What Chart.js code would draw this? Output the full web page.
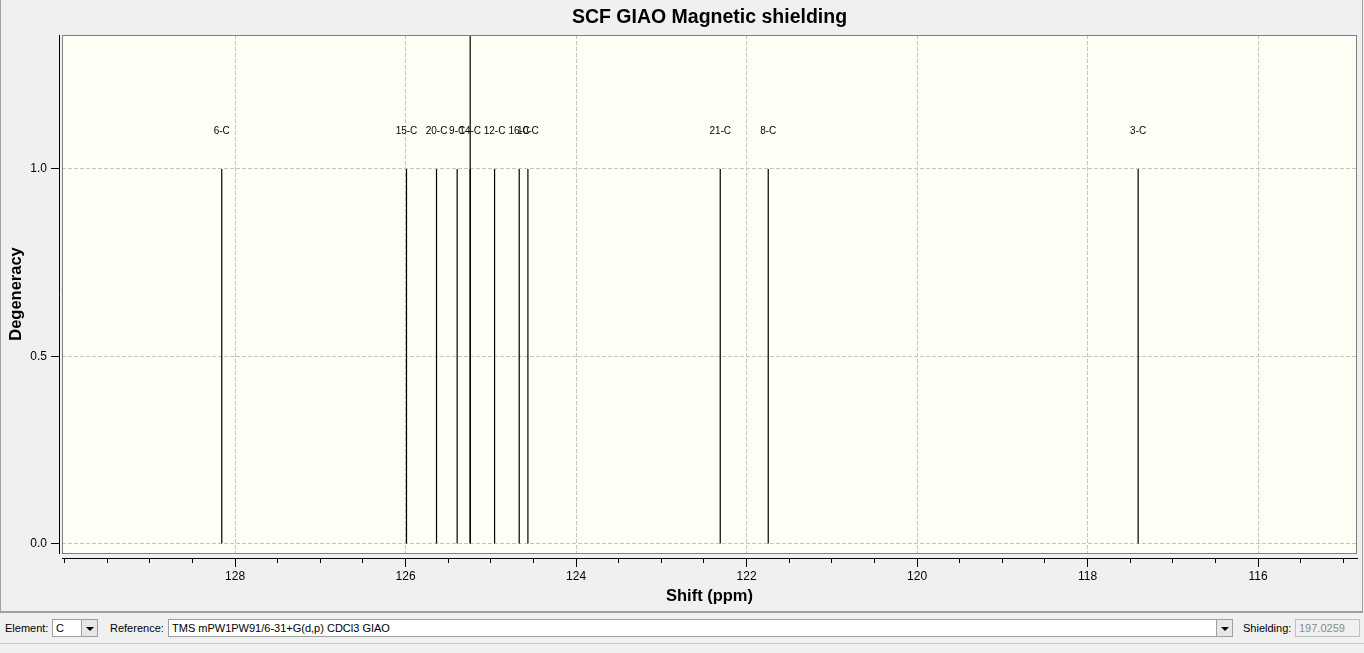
<!DOCTYPE html>
<html>
<head>
<meta charset="utf-8">
<script src="https://cdn.jsdelivr.net/npm/chart.js@4/dist/chart.umd.min.js"></script>
<style>
  html, body { margin: 0; padding: 0; background: #f0f0f0; width: 1364px; height: 653px; overflow: hidden;
    font-family: "Liberation Sans", Arial, sans-serif; font-size: 11px; color: #000; }
  #panel { position: absolute; left: 0; top: 0; width: 1361px; height: 611px;
    border-left: 1px solid #a0a0a0; border-right: 1px solid #a0a0a0; border-bottom: 2px solid #a0a0a0; }
  #chart { position: absolute; left: 2px; top: 0; }
  .lbl { position: absolute; top: 621px; line-height: 14px; }
  .box { position: absolute; top: 619px; height: 16px; background: #fff; border: 1px solid #a0a0a0; }
  .box span { position: absolute; left: 3px; top: 1px; line-height: 14px; }
  .btn { position: absolute; right: 0; top: 0; width: 15px; height: 16px; background: #e6e6e6;
    border-left: 1px solid #a0a0a0; }
  .btn:after { content: ""; position: absolute; left: 4px; top: 7px; border-left: 4px solid transparent;
    border-right: 4px solid transparent; border-top: 4px solid #000; }
  #foot { position: absolute; left: 0; top: 643px; width: 1364px; border-top: 1px solid #c8c8c8; }
</style>
</head>
<body>
<div id="panel"></div>
<canvas id="chart" width="1360" height="611"></canvas>

<div class="lbl" style="left:5px">Element:</div>
<div class="box" style="left:52px;width:44px"><span>C</span><div class="btn"></div></div>
<div class="lbl" style="left:110px">Reference:</div>
<div class="box" style="left:168px;width:1063px"><span>TMS mPW1PW91/6-31+G(d,p) CDCl3 GIAO</span><div class="btn"></div></div>
<div class="lbl" style="left:1243px">Shielding:</div>
<div class="box" style="left:1295px;width:63px;background:#f0f0f0;border-color:#c0c0c0"><span style="color:#8a8a8a">197.0259</span></div>
<div id="foot"></div>

<script>
// peaks
const peakLabels = ["6-C", "15-C", "20-C", "9-C", "14-C", "12-C", "16-C", "10-C", "21-C", "8-C", "3-C"];
const peakShifts = [128.156, 125.989, 125.637, 125.395, 125.242, 124.956, 124.667, 124.565, 122.309, 121.746, 117.407];
const degeneracy = [1, 1, 1, 1, 1, 1, 1, 1, 1, 1, 1];
const cursorShift = 125.242;
const labelLevel = 1.1;

const xMin = 114.84, xMax = 130.03;
const yMin = -0.024, yMax = 1.357;
const xMajorTicks = [128, 126, 124, 122, 120, 118, 116];
const xMinorTicks = [130, 129.5, 129, 128.5, 128, 127.5, 127, 126.5, 126, 125.5, 125, 124.5, 124, 123.5,
  123, 122.5, 122, 121.5, 121, 120.5, 120, 119.5, 119, 118.5, 118, 117.5, 117, 116.5, 116, 115.5, 115];
const yTicks = [0, 0.5, 1.0];

const FONT = "'Liberation Sans', Arial, sans-serif";
const gridDash = { color: "#c4c4c4", lineWidth: 1, offset: false };

function setTicks(list) {
  return (scale) => { scale.ticks = list.map((v) => ({ value: v })); };
}

const plotFrame = {
  id: "plotFrame",
  beforeDraw(chart) {
    const { ctx, chartArea: a } = chart;
    ctx.save();
    ctx.fillStyle = "#fffff5";
    ctx.fillRect(a.left, a.top, a.right - a.left, a.bottom - a.top);
    ctx.restore();
  },
  afterDraw(chart) {
    const { ctx, chartArea: a } = chart;
    ctx.save();
    ctx.strokeStyle = "#808080";
    ctx.lineWidth = 1;
    ctx.strokeRect(a.left + 0.5, a.top + 0.5, a.right - a.left - 1, a.bottom - a.top);
    ctx.restore();
  },
};

const peakNames = {
  id: "peakNames",
  afterDatasetsDraw(chart) {
    const { ctx, scales } = chart;
    ctx.save();
    ctx.font = "10px " + FONT;
    ctx.fillStyle = "#000";
    ctx.textAlign = "center";
    ctx.textBaseline = "middle";
    peakLabels.forEach((name, i) => {
      ctx.fillText(name, scales.x.getPixelForValue(peakShifts[i]), scales.y.getPixelForValue(labelLevel));
    });
    ctx.restore();
  },
};

new Chart(document.getElementById("chart"), {
  type: "bar",
  data: {
    datasets: [
      {
        data: peakShifts.map((s, i) => ({ x: s, y: degeneracy[i] })),
        backgroundColor: "#000",
        barThickness: 1.2,
        inflateAmount: 0,
        grouped: false,
      },
      {
        data: [{ x: cursorShift, y: yMax }],
        backgroundColor: "#000",
        barThickness: 1.2,
        inflateAmount: 0,
        grouped: false,
      },
    ],
  },
  options: {
    responsive: false,
    animation: false,
    events: [],
    layout: { padding: { left: 0, right: 5, top: 0, bottom: 0 } },
    plugins: {
      legend: { display: false },
      tooltip: { enabled: false },
      title: {
        display: true,
        fullSize: false,
        text: "SCF GIAO Magnetic shielding",
        color: "#000",
        font: { family: FONT, size: 19.5, weight: "bold", lineHeight: 1.2 },
        padding: { top: 6.3, bottom: 5.3 },
      },
    },
    scales: {
      x: {
        type: "linear", position: "bottom", weight: 0, offset: false,
        min: xMin, max: xMax, reverse: true,
        afterBuildTicks: setTicks(xMajorTicks),
        afterFit: (s) => { s.height = 5; },
        ticks: { display: false },
        border: { display: false, dash: [4, 2] },
        grid: { ...gridDash, drawTicks: false },
      },
      x2: {
        type: "linear", position: "bottom", weight: 1, offset: false,
        min: xMin, max: xMax, reverse: true,
        afterBuildTicks: setTicks(xMinorTicks),
        afterFit: (s) => { s.height = 5; },
        ticks: { display: false },
        border: { display: true, color: "#000", width: 1 },
        grid: { offset: false, drawOnChartArea: false, drawTicks: true, tickLength: 5, tickColor: "#000", color: "#000" },
      },
      x3: {
        type: "linear", position: "bottom", weight: 2, offset: false,
        min: xMin, max: xMax, reverse: true,
        afterBuildTicks: setTicks(xMajorTicks),
        afterFit: (s) => { s.height = 48; },
        ticks: { color: "#000", font: { family: FONT, size: 12 }, padding: 2, maxRotation: 0, autoSkip: false,
          callback: (v) => String(v) },
        border: { display: false },
        grid: { offset: false, drawOnChartArea: false, drawTicks: true, tickLength: 4, tickColor: "#000", color: "#000" },
        title: { display: true, text: "Shift (ppm)", color: "#000",
          font: { family: FONT, size: 16.5, weight: "bold", lineHeight: 1.2 }, padding: { top: 0, bottom: 5 } },
      },
      y: {
        type: "linear", position: "left", weight: 0,
        min: yMin, max: yMax,
        afterBuildTicks: setTicks(yTicks),
        afterFit: (s) => { s.width = 3; },
        ticks: { display: false },
        border: { display: false, dash: [4, 2] },
        grid: { ...gridDash, drawTicks: false },
      },
      y2: {
        type: "linear", position: "left", weight: 1,
        min: yMin, max: yMax,
        afterBuildTicks: setTicks(yTicks),
        afterFit: (s) => { s.width = 57; },
        ticks: { color: "#000", font: { family: FONT, size: 12 }, padding: 4, callback: (v) => v.toFixed(1) },
        border: { display: true, color: "#000", width: 1 },
        grid: { drawOnChartArea: false, drawTicks: true, tickLength: 8, tickColor: "#000", color: "#000" },
        title: { display: true, text: "Degeneracy", color: "#000",
          font: { family: FONT, size: 16.5, weight: "bold", lineHeight: 1.2 }, padding: { top: 5, bottom: 0 } },
      },
    },
  },
  plugins: [plotFrame, peakNames],
});
</script>
</body>
</html>
